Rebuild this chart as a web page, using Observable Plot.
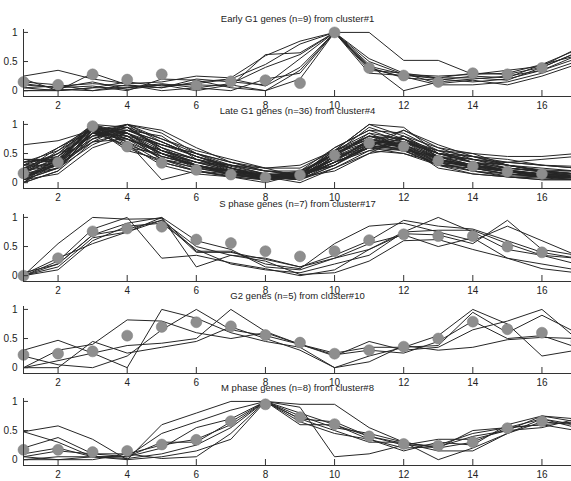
<!DOCTYPE html>
<html>
<head>
<meta charset="utf-8">
<script src="https://cdn.jsdelivr.net/npm/d3@7"></script>
<script src="https://cdn.jsdelivr.net/npm/@observablehq/plot@0.6"></script>
<style>
  html, body { margin: 0; padding: 0; background: #fff; overflow: hidden; }
  #chart { position: relative; width: 571px; height: 481px; }
  #chart svg { position: absolute; left: 0; }
</style>
</head>
<body>
<div id="chart"></div>
<script>
// ---- data ----
const timePoints = [1, 2, 3, 4, 5, 6, 7, 8, 9, 10, 11, 12, 13, 14, 15, 16, 17];
const xTicks = [2, 4, 6, 8, 10, 12, 14, 16];
const yTicks = [0, 0.5, 1];
const yTickLabels = ["0", "0.5", "1"];
const xDomain = [1, 17];
const yDomain = [-0.1, 1.05];

const panelTitles = [
  "Early G1 genes (n=9) from cluster#1",
  "Late G1 genes (n=36) from cluster#4",
  "S phase genes (n=7) from cluster#17",
  "G2 genes (n=5) from cluster#10",
  "M phase genes (n=8) from cluster#8"
];

const earlyG1Means = [0.15, 0.1, 0.28, 0.19, 0.28, 0.09, 0.16, 0.18, 0.13, 1.0, 0.39, 0.26, 0.15, 0.3, 0.28, 0.39, 0.62];
const earlyG1Genes = [
  [0.25, 0.35, 0.2, 0.12, 0.15, 0.25, 0.22, 0.6, 0.85, 1, 1, 0.52, 0.52, 0.28, 0.3, 0.45, 0.7],
  [0.05, 0.0, 0.05, 0.05, 0.1, 0.1, 0.08, 0.62, 0.65, 1, 0.55, 0.3, 0.22, 0.22, 0.18, 0.4, 0.65],
  [0.2, 0.0, 0.3, 0.1, 0.05, 0.15, 0.2, 0.45, 0.8, 1, 0.45, 0.0, 0.15, 0.2, 0.25, 0.35, 0.6],
  [0.0, 0.02, 0.0, 0.05, 0.12, 0.05, 0.12, 0.4, 0.62, 1, 0.42, 0.28, 0.2, 0.15, 0.2, 0.35, 0.55],
  [0.1, 0.05, 0.08, 0.0, 0.2, 0.18, 0.05, 0.0, 0.35, 1, 0.5, 0.28, 0.25, 0.28, 0.35, 0.42, 0.72],
  [0.15, 0.1, 0.0, 0.1, 0.0, 0.05, 0.0, 0.2, 0.3, 1, 0.38, 0.24, 0.1, 0.1, 0.15, 0.3, 0.5],
  [0.05, 0.08, 0.12, 0.08, 0.05, 0.2, 0.15, 0.1, 0.55, 1, 0.4, 0.22, 0.18, 0.25, 0.22, 0.45, 0.6],
  [0.0, 0.0, 0.05, 0.15, 0.08, 0.12, 0.2, 0.08, 0.4, 1, 0.3, 0.26, 0.22, 0.3, 0.28, 0.4, 0.65],
  [0.12, 0.05, 0.15, 0.02, 0.1, 0.0, 0.1, 0.0, 0.2, 1, 0.35, 0.3, 0.12, 0.18, 0.1, 0.25, 0.45]
];

const lateG1Means = [0.16, 0.35, 0.97, 0.62, 0.34, 0.22, 0.14, 0.09, 0.13, 0.47, 0.68, 0.62, 0.38, 0.28, 0.19, 0.15, 0.12];
const lateG1Genes = [
  [0.65, 0.72, 0.9, 1.0, 0.55, 0.4, 0.3, 0.25, 0.3, 0.55, 1.0, 0.95, 0.5, 0.45, 0.4, 0.3, 0.25],
  [0.0, 0.35, 1.0, 0.75, 0.5, 0.3, 0.15, 0.05, 0.1, 0.5, 0.75, 0.6, 0.35, 0.3, 0.2, 0.1, 0.08],
  [0.1, 0.4, 0.95, 0.6, 0.35, 0.2, 0.1, 0.0, 0.15, 0.4, 0.7, 0.55, 0.3, 0.25, 0.15, 0.12, 0.1],
  [0.2, 0.3, 0.85, 1.0, 0.7, 0.45, 0.25, 0.1, 0.1, 0.45, 0.8, 0.7, 0.5, 0.35, 0.2, 0.15, 0.1],
  [0.3, 0.5, 1.0, 0.8, 0.4, 0.25, 0.2, 0.15, 0.05, 0.3, 0.65, 0.8, 0.45, 0.3, 0.25, 0.2, 0.15],
  [0.4, 0.4, 0.8, 0.95, 0.55, 0.35, 0.3, 0.2, 0.2, 0.6, 0.9, 0.85, 0.55, 0.5, 0.3, 0.2, 0.2],
  [0.05, 0.25, 0.75, 1.0, 0.85, 0.5, 0.25, 0.05, 0.1, 0.35, 0.6, 0.9, 0.6, 0.4, 0.3, 0.2, 0.1],
  [0.15, 0.45, 0.9, 0.7, 0.45, 0.3, 0.12, 0.08, 0.12, 0.55, 0.85, 0.6, 0.4, 0.3, 0.2, 0.1, 0.05],
  [0.25, 0.35, 0.95, 0.85, 0.6, 0.4, 0.22, 0.1, 0.0, 0.25, 0.55, 0.7, 0.5, 0.45, 0.35, 0.3, 0.25],
  [0.0, 0.2, 0.7, 0.85, 0.65, 0.5, 0.3, 0.2, 0.15, 0.4, 0.6, 0.65, 0.25, 0.15, 0.1, 0.05, 0.05],
  [0.35, 0.55, 1.0, 0.65, 0.3, 0.15, 0.1, 0.05, 0.1, 0.45, 0.7, 0.55, 0.35, 0.2, 0.15, 0.1, 0.08],
  [0.1, 0.3, 0.9, 0.95, 0.75, 0.55, 0.4, 0.25, 0.1, 0.2, 0.5, 0.8, 0.6, 0.5, 0.45, 0.45, 0.5],
  [0.2, 0.6, 0.95, 0.55, 0.4, 0.3, 0.2, 0.12, 0.2, 0.5, 0.95, 0.75, 0.4, 0.3, 0.2, 0.15, 0.12],
  [0.05, 0.15, 0.6, 0.8, 0.5, 0.35, 0.2, 0.1, 0.05, 0.35, 0.75, 0.65, 0.45, 0.4, 0.25, 0.2, 0.15],
  [0.3, 0.4, 0.9, 0.85, 0.5, 0.25, 0.15, 0.05, 0.15, 0.5, 0.7, 0.6, 0.3, 0.2, 0.1, 0.08, 0.05],
  [0.15, 0.25, 0.8, 1.0, 0.9, 0.6, 0.35, 0.2, 0.15, 0.3, 0.6, 0.7, 0.55, 0.35, 0.3, 0.25, 0.2],
  [0.0, 0.45, 0.95, 0.7, 0.35, 0.2, 0.12, 0.1, 0.12, 0.6, 0.9, 0.7, 0.4, 0.25, 0.15, 0.1, 0.1],
  [0.4, 0.35, 0.85, 0.9, 0.65, 0.45, 0.3, 0.15, 0.1, 0.35, 0.55, 0.5, 0.3, 0.3, 0.35, 0.4, 0.45],
  [0.2, 0.5, 0.95, 0.75, 0.55, 0.35, 0.2, 0.05, 0.08, 0.4, 0.65, 0.75, 0.5, 0.35, 0.2, 0.12, 0.1],
  [0.1, 0.3, 0.75, 0.95, 0.6, 0.3, 0.15, 0.1, 0.1, 0.5, 0.8, 0.6, 0.35, 0.2, 0.12, 0.1, 0.1],
  [0.25, 0.45, 1.0, 0.85, 0.5, 0.28, 0.18, 0.12, 0.15, 0.55, 0.75, 0.65, 0.4, 0.3, 0.22, 0.15, 0.1],
  [0.05, 0.35, 0.85, 0.65, 0.45, 0.3, 0.15, 0.05, 0.2, 0.45, 0.6, 0.5, 0.35, 0.28, 0.2, 0.15, 0.15],
  [0.3, 0.3, 0.7, 1.0, 0.75, 0.5, 0.35, 0.2, 0.12, 0.3, 0.7, 0.9, 0.65, 0.45, 0.3, 0.2, 0.15],
  [0.15, 0.55, 0.9, 0.6, 0.5, 0.35, 0.25, 0.15, 0.1, 0.35, 0.6, 0.55, 0.45, 0.35, 0.25, 0.18, 0.12],
  [0.05, 0.25, 0.65, 0.9, 0.8, 0.4, 0.2, 0.1, 0.05, 0.25, 0.5, 0.6, 0.45, 0.25, 0.15, 0.1, 0.05],
  [0.2, 0.4, 0.95, 0.8, 0.4, 0.2, 0.1, 0.05, 0.1, 0.45, 0.85, 0.75, 0.45, 0.3, 0.2, 0.12, 0.1],
  [0.35, 0.45, 0.85, 0.75, 0.55, 0.4, 0.25, 0.1, 0.18, 0.5, 0.75, 0.6, 0.3, 0.15, 0.1, 0.05, 0.05],
  [0.1, 0.35, 0.95, 0.9, 0.7, 0.45, 0.28, 0.15, 0.12, 0.4, 0.7, 0.7, 0.5, 0.4, 0.35, 0.3, 0.28],
  [0.0, 0.2, 0.9, 0.75, 0.4, 0.25, 0.15, 0.1, 0.05, 0.3, 0.65, 0.75, 0.55, 0.45, 0.3, 0.2, 0.15],
  [0.25, 0.5, 0.8, 0.85, 0.45, 0.3, 0.2, 0.15, 0.15, 0.5, 0.8, 0.65, 0.4, 0.25, 0.2, 0.15, 0.15],
  [0.15, 0.3, 1.0, 0.95, 0.6, 0.4, 0.25, 0.12, 0.1, 0.35, 0.6, 0.6, 0.38, 0.28, 0.18, 0.12, 0.1],
  [0.3, 0.6, 0.9, 0.7, 0.05, 0.2, 0.15, 0.1, 0.1, 0.4, 0.7, 0.65, 0.35, 0.3, 0.2, 0.1, 0.08],
  [0.1, 0.25, 0.85, 0.8, 0.65, 0.5, 0.35, 0.25, 0.25, 0.55, 1.0, 0.8, 0.5, 0.35, 0.25, 0.2, 0.15],
  [0.2, 0.35, 0.7, 0.75, 0.5, 0.3, 0.2, 0.1, 0.05, 0.45, 0.65, 0.55, 0.3, 0.25, 0.2, 0.12, 0.1],
  [0.05, 0.4, 0.95, 0.85, 0.55, 0.3, 0.18, 0.08, 0.12, 0.35, 0.6, 0.7, 0.45, 0.3, 0.22, 0.15, 0.12],
  [0.35, 0.4, 0.75, 0.9, 0.7, 0.45, 0.25, 0.12, 0.15, 0.55, 0.8, 0.75, 0.5, 0.4, 0.3, 0.22, 0.2]
];

const sPhaseMeans = [0.0, 0.3, 0.76, 0.81, 0.84, 0.62, 0.56, 0.42, 0.33, 0.42, 0.61, 0.71, 0.68, 0.68, 0.5, 0.4, 0.35];
const sPhaseGenes = [
  [0, 0.55, 1.0, 0.97, 0.98, 0.42, 0.42, 0.2, 0.12, 0.55, 0.85, 0.9, 0.75, 0.6, 0.85, 0.6, 0.35],
  [0, 0.25, 0.8, 1.0, 0.3, 0.35, 0.22, 0.12, 0.0, 0.1, 0.45, 0.75, 1.0, 0.75, 0.45, 0.35, 0.2],
  [0.05, 0.2, 0.7, 0.9, 1.0, 0.15, 0.35, 0.3, 0.15, 0.35, 0.6, 0.95, 0.85, 0.8, 0.6, 0.4, 0.3],
  [0, 0.15, 0.65, 0.75, 0.95, 0.4, 0.4, 0.28, 0.15, 0.3, 0.55, 0.7, 0.5, 0.65, 0.3, 0.2, 0.1],
  [0, 0.1, 0.6, 0.85, 0.9, 0.45, 0.2, 0.1, 0.05, 0.2, 0.35, 0.75, 0.78, 0.78, 0.55, 0.35, 0.3],
  [0.02, 0.3, 0.55, 0.75, 1.0, 0.6, 0.45, 0.15, 0.1, 0.3, 0.45, 0.72, 0.7, 0.55, 0.95, 0.45, 0.35],
  [0, 0.2, 0.7, 0.8, 0.95, 0.5, 0.35, 0.25, 0.02, 0.05, 0.25, 0.6, 0.62, 0.45, 0.3, 0.12, 0.05]
];

const g2Means = [0.22, 0.24, 0.28, 0.55, 0.7, 0.78, 0.71, 0.56, 0.43, 0.24, 0.3, 0.36, 0.5, 0.79, 0.66, 0.6, 0.45];
const g2Genes = [
  [0.3, 0.47, 0.25, 0.0, 1.0, 0.85, 0.6, 0.45, 0.35, 0.0, 0.2, 0.35, 0.55, 1.0, 0.75, 0.2, 0.3],
  [0.0, 0.3, 0.4, 0.82, 0.8, 0.6, 0.5, 0.6, 0.4, 0.2, 0.45, 0.3, 0.35, 0.65, 0.8, 1.0, 0.5],
  [0.0, 0.12, 0.25, 0.38, 0.42, 0.5, 1.0, 0.62, 0.4, 0.22, 0.3, 0.25, 0.45, 0.8, 0.5, 0.55, 0.35],
  [0.2, 0.05, 0.0, 0.2, 0.65, 1.0, 0.65, 0.55, 0.4, 0.25, 0.35, 0.35, 0.38, 0.95, 0.6, 0.9, 0.6],
  [0.0, 0.0, 0.45, 0.25, 0.35, 0.45, 0.7, 0.5, 0.3, 0.0, 0.1, 0.38, 0.3, 0.35, 0.48, 0.52, 0.5]
];

const mPhaseMeans = [0.17, 0.17, 0.13, 0.15, 0.26, 0.34, 0.66, 0.95, 0.73, 0.61, 0.4, 0.27, 0.24, 0.3, 0.54, 0.66, 0.6];
const mPhaseGenes = [
  [0.48, 0.58, 0.35, 0.0, 0.6, 0.8, 1.0, 1.0, 0.95, 0.95, 0.55, 0.3, 0.2, 0.5, 0.55, 0.7, 0.6],
  [0.48, 0.3, 0.05, 0.05, 0.45, 0.65, 0.85, 1.0, 0.8, 0.6, 0.4, 0.25, 0.25, 0.45, 0.55, 0.6, 0.65],
  [0.2, 0.38, 0.1, 0.05, 0.2, 0.55, 0.7, 1.0, 0.9, 0.05, 0.1, 0.25, 0.35, 0.35, 0.5, 0.75, 0.7],
  [0.1, 0.2, 0.05, 0.05, 0.3, 0.3, 0.65, 1.0, 0.75, 0.55, 0.45, 0.3, 0.2, 0.3, 0.55, 0.6, 0.5],
  [0.05, 0.15, 0.1, 0.1, 0.25, 0.35, 0.6, 1.0, 0.6, 0.6, 0.35, 0.15, 0.3, 0.25, 0.6, 0.75, 0.65],
  [0.0, 0.05, 0.05, 0.02, 0.1, 0.25, 0.55, 1.0, 0.7, 0.5, 0.3, 0.3, 0.0, 0.2, 0.45, 0.7, 0.55],
  [0.05, 0.0, 0.05, 0.0, 0.05, 0.15, 0.35, 1.0, 0.65, 0.45, 0.35, 0.2, 0.22, 0.4, 0.5, 0.55, 0.7],
  [0.0, 0.0, 0.0, 0.1, 0.02, 0.05, 0.45, 1.0, 0.7, 0.65, 0.4, 0.28, 0.15, 0.15, 0.45, 0.65, 0.6]
];

// ---- drawing ----
const panels = [
  {title: panelTitles[0], genes: earlyG1Genes, means: earlyG1Means},
  {title: panelTitles[1], genes: lateG1Genes, means: lateG1Means},
  {title: panelTitles[2], genes: sPhaseGenes, means: sPhaseMeans},
  {title: panelTitles[3], genes: g2Genes, means: g2Means},
  {title: panelTitles[4], genes: mPhaseGenes, means: mPhaseMeans}
];

const W = 571, H = 130, mTop = 29, mBottom = 34, mLeft = 23, mRight = 0;
const step = 92.25;
const boxH = H - mTop - mBottom;
const boxW = W - mLeft - mRight;
const container = document.getElementById("chart");

panels.forEach((p, i) => {
  const lines = p.genes.flatMap((g, gi) => g.map((v, k) => ({t: timePoints[k], v, gene: gi})));
  const dots = p.means.map((v, k) => ({t: timePoints[k], v}));
  const svg = Plot.plot({
    width: W, height: H,
    marginTop: mTop, marginBottom: mBottom, marginLeft: mLeft, marginRight: mRight,
    style: {background: "transparent", fontFamily: "Liberation Sans, Arial, sans-serif", fontSize: "10px", color: "#222"},
    x: {domain: xDomain, range: [mLeft, 576], ticks: xTicks, tickSize: 0, tickPadding: 5, label: null},
    y: {domain: yDomain, ticks: yTicks, tickSize: 0, tickPadding: 6, label: null,
        tickFormat: d => yTickLabels[yTicks.indexOf(d)]},
    marks: [
      Plot.line(lines, {x: "t", y: "v", z: "gene", stroke: "#262626", strokeWidth: 1}),
      Plot.dot(dots, {x: "t", y: "v", r: 5.5, fill: "#8e8e8e", stroke: "#7a7a7a", strokeWidth: 0.5}),
      Plot.ruleX(xTicks, {x: d => d, insetTop: boxH - 6, stroke: "#333"}),
      Plot.ruleY(yTicks, {y: d => d, insetRight: boxW - 5, stroke: "#333"}),
      Plot.ruleX([xDomain[0]], {x: d => d, stroke: "#333"}),
      Plot.ruleY([yDomain[0]], {y: d => d, stroke: "#333"}),
      Plot.text([p.title], {text: d => d, x: null, y: null, frameAnchor: "top", dy: -14, fontSize: 9.5, fill: "#222"})
    ]
  });
  svg.style.top = (step * i) + "px";
  container.appendChild(svg);
});
</script>
</body>
</html>
